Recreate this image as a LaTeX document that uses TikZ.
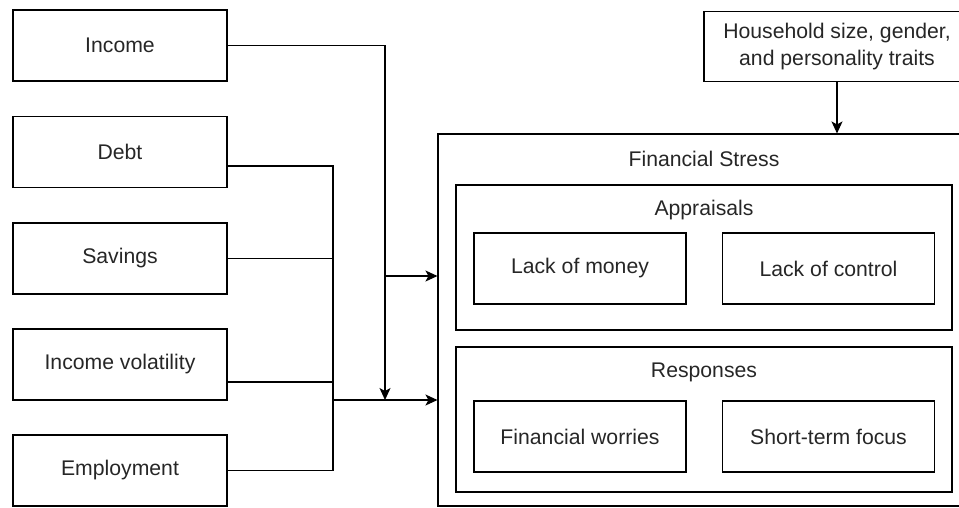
\documentclass[tikz,border=0pt]{standalone}
\usepackage{fontspec}
\setmainfont{Liberation Sans}
\usetikzlibrary{arrows.meta}

\tikzset{
  txt/.style={font=\fontsize{21.2}{26.5}\selectfont, text=black!85},
  factor/.style={draw, txt, line width=1.1pt, minimum width=214pt, minimum height=71pt, inner sep=0pt},
  part/.style={draw, txt, line width=1.1pt, minimum width=212pt, minimum height=71pt, inner sep=0pt},
  group/.style={draw, line width=1.1pt, minimum width=496pt, minimum height=145pt, inner sep=0pt},
  link/.style={line width=1.1pt},
}

\begin{document}
\begin{tikzpicture}[x=1pt, y=-1pt, >={Stealth[length=12pt, width=11pt, inset=3pt]}]
    \useasboundingbox (0, 0) rectangle (959, 507);
    \clip (0, 0) rectangle (959, 507);

    % left-hand factors
    \node[factor] (income) at (120, 45.5) {Income};
    \node[factor] (debt) at (120, 152) {Debt};
    \node[factor] (savings) at (120, 258.5) {Savings};
    \node[factor] (volatility) at (120, 364.5) {Income volatility};
    \node[factor] (employment) at (120, 470.5) {Employment};

    % moderators and the stress block
    \node[draw, txt, line width=1.1pt, align=center, minimum width=266pt, minimum height=70pt, inner sep=0pt] (household) at (837, 46.5) {Household size, gender,\\and personality traits};
    \node[draw, line width=1.1pt, minimum width=532pt, minimum height=372pt, inner sep=0pt] (stress) at (704, 320) {};
    \node[txt] (stresslbl) at (704, 159) {Financial Stress};

    \node[group] (appraisals) at (704, 257.5) {};
    \node[txt] (appraisalslbl) at (704, 210) {Appraisals};
    \node[part] (money) at (580, 268.5) {Lack of money};
    \node[part] (control) at (828.5, 268.5) {Lack of control};

    \node[group] (responses) at (704, 419.5) {};
    \node[txt] (responseslbl) at (704, 372) {Responses};
    \node[part] (worries) at (580, 436.5) {Financial worries};
    \node[part] (focus) at (828.5, 436.5) {Short-term focus};

    % junction points
    \coordinate (jmid) at (385, 276);
    \coordinate (jlow) at (385, 400);
    \coordinate (jbus) at (333, 400);

    \draw[link, ->] (income.east) -| (jlow);
    \draw[link, ->] (jmid) -- (jmid -| stress.west);
    \draw[link] ([yshift=-14pt]debt.east) -| (employment.east -| jbus) -- (employment.east);
    \draw[link] (savings.east) -- (savings.east -| jbus);
    \draw[link] ([yshift=-17.5pt]volatility.east) -- ([yshift=-17.5pt]volatility.east -| jbus);
    \draw[link, ->] (jbus) -- (jbus -| stress.west);
    \draw[link, ->] (household.south) -- (household.south |- stress.north);

  \end{tikzpicture}
\end{document}
